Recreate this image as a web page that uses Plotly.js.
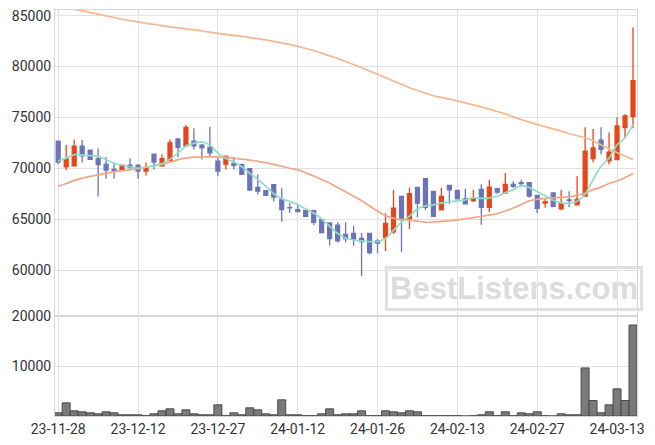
<!DOCTYPE html>
<html>
<head>
<meta charset="utf-8">
<script src="https://cdn.plot.ly/plotly-3.0.1.min.js"></script>
<style>html,body{margin:0;padding:0;background:#fff;}#chart{width:655px;height:445px;}</style>
</head>
<body>
<div id="chart"></div>
<script>
const dates = ["23-11-28","23-11-29","23-11-30","23-12-01","23-12-04","23-12-05","23-12-06","23-12-07","23-12-08","23-12-11",
"23-12-12","23-12-13","23-12-14","23-12-15","23-12-18","23-12-19","23-12-20","23-12-21","23-12-22","23-12-26",
"23-12-27","23-12-28","24-01-02","24-01-03","24-01-04","24-01-05","24-01-08","24-01-09","24-01-10","24-01-11",
"24-01-12","24-01-15","24-01-16","24-01-17","24-01-18","24-01-19","24-01-22","24-01-23","24-01-24","24-01-25",
"24-01-26","24-01-29","24-01-30","24-01-31","24-02-01","24-02-02","24-02-05","24-02-06","24-02-07","24-02-08",
"24-02-13","24-02-14","24-02-15","24-02-16","24-02-19","24-02-20","24-02-21","24-02-22","24-02-23","24-02-26",
"24-02-27","24-02-28","24-02-29","24-03-04","24-03-05","24-03-06","24-03-07","24-03-08","24-03-11","24-03-12",
"24-03-13","24-03-14","24-03-15"];

const openP = [72670,70130,70230,72180,71780,70960,70400,69900,69830,70300,
70300,69730,71390,70230,70790,72870,72210,72670,72280,72050,
70690,70400,70470,70370,69970,68120,67790,68390,66930,66140,
65940,65840,65840,64950,64620,64420,63500,63600,63100,63600,
62870,63220,63760,67230,65020,68090,68980,67720,65910,68320,
67820,67000,66830,67920,66170,67990,67560,68420,68580,68580,
67330,66570,67590,66010,66900,66400,67260,70960,72770,70720,
70860,73990,75080];
const highP = [72700,72280,72840,72770,71800,71950,71120,70560,70330,70960,
70300,70560,71400,71360,72840,73000,74260,73930,72380,74090,
71060,71200,71120,70470,70000,69380,67800,68400,68050,66600,
66400,65850,65850,64950,64650,64690,64690,64360,63630,63600,
63040,65570,67890,67250,68090,68220,69000,67720,68090,68330,
67820,67990,67890,68420,68880,68090,69530,68720,68880,68580,
67330,67000,67600,67890,67750,69210,74030,73860,74030,73530,
75020,75310,83830];
const lowP = [70400,69800,70200,70560,70840,67230,68980,68980,69800,69970,
68980,69300,69870,70200,70700,71120,72200,71850,70860,71120,
69210,69870,69870,69400,67820,67430,67300,66730,64750,65610,
65700,65200,64420,63650,62380,62700,62700,62380,59400,61550,
61650,61880,63530,61780,64030,65180,65910,65280,65900,66500,
66990,66480,66660,64460,65680,67500,67550,68090,68220,67100,
65570,66110,66170,65910,66170,66400,67250,70560,71360,70400,
70850,73040,73930];
const closeP = [70620,70960,72180,71220,70890,70370,69830,69770,70300,70070,
69730,70070,70620,70960,72500,72050,74030,72210,72010,71510,
69730,71190,70300,69410,67850,67750,67330,67170,65940,66100,
65740,65280,64690,63690,63100,62870,63100,63050,62800,61720,
62640,64580,66070,65080,67500,66570,66170,65280,67230,67890,
67000,66500,67060,66170,68150,67650,68420,68220,68500,67260,
66070,66730,66270,66570,66830,66930,71680,72010,71850,71580,
74160,75150,78610];

const volume = [640,2640,1040,840,640,440,840,640,240,240,
240,50,440,1040,1440,440,1240,440,240,240,
2240,50,640,240,1640,1240,440,240,3240,240,
240,50,50,440,1440,240,440,440,1040,50,
50,1040,840,640,1040,840,50,50,50,50,
50,0,50,240,840,50,840,50,640,440,
840,50,0,440,240,240,9640,3100,640,2240,
5440,3100,18240];

const maShort = [70720,71000,71350,71300,71250,71190,70850,70500,70300,70150,
70030,70100,70250,70460,70900,71500,72200,72450,72600,72300,
71500,70950,70620,70150,69500,68900,68250,67500,67000,66750,
66450,66000,65600,65000,64300,63600,63150,62950,62870,62800,
62800,63100,63900,64700,65300,66000,66300,66400,66600,66700,
66800,66900,67100,67050,67100,67250,67600,67900,68300,68100,
67700,67300,66850,66600,66560,66750,67450,68900,70200,71000,
72300,73000,74300];
const maMid = [68220,68500,68810,69020,69210,69350,69520,69650,69750,69850,
69960,70100,70250,70400,70600,70850,71000,71100,71120,71130,
71120,71080,71000,70900,70800,70680,70550,70380,70200,70000,
69850,69550,69250,68900,68550,68100,67700,67250,66800,66300,
65800,65350,65100,64950,64900,64800,64700,64720,64780,64850,
64920,65020,65150,65280,65400,65550,65800,66100,66450,66800,
66950,67050,67100,67150,67180,67350,67550,67900,68150,68500,
68750,69100,69500];
const maLong = [86200,85900,85640,85480,85310,85150,84980,84820,84650,84520,
84390,84260,84140,84030,83910,83810,83710,83610,83500,83380,
83270,83170,83070,82970,82850,82740,82620,82480,82330,82180,
81980,81780,81580,81320,81050,80790,80490,80200,79900,79570,
79240,78910,78580,78250,77920,77650,77390,77130,76960,76800,
76630,76430,76240,76040,75810,75580,75350,75050,74800,74550,
74300,74080,73870,73650,73400,73200,73000,72700,72300,71900,
71550,71200,70850];

const xTickLabels = ["23-11-28","23-12-12","23-12-27","24-01-12","24-01-26","24-02-13","24-02-27","24-03-13"];
const priceTicks = [60000,65000,70000,75000,80000,85000];
const volumeTicks = [10000,20000];

const UP = '#e5461a', DOWN = '#6b74b8';
const traces = [
  {type:'bar', x:dates, y:volume, xaxis:'x', yaxis:'y2',
   marker:{color:'#7a7a7a', line:{color:'#4a4a4a', width:1}}, hoverinfo:'skip'},
  {type:'candlestick', x:dates, open:openP, high:highP, low:lowP, close:closeP, xaxis:'x', yaxis:'y',
   increasing:{line:{color:UP, width:1.3}, fillcolor:UP},
   decreasing:{line:{color:DOWN, width:1.3}, fillcolor:DOWN}, hoverinfo:'skip'},
  {type:'scatter', mode:'lines', x:dates, y:maLong, xaxis:'x', yaxis:'y',
   line:{color:'#f4b78f', width:1.7, shape:'spline', smoothing:0.6}, hoverinfo:'skip'},
  {type:'scatter', mode:'lines', x:dates, y:maMid, xaxis:'x', yaxis:'y',
   line:{color:'#f1a689', width:1.7, shape:'spline', smoothing:0.6}, hoverinfo:'skip'},
  {type:'scatter', mode:'lines', x:dates, y:maShort, xaxis:'x', yaxis:'y',
   line:{color:'#93dcc4', width:1.7, shape:'spline', smoothing:0.6}, hoverinfo:'skip'}
];

const tickFont = {family:'Roboto', size:14, color:'#333'};
const layout = {
  width:655, height:445,
  margin:{l:55, r:18, t:10, b:29, pad:0},
  paper_bgcolor:'#fff', plot_bgcolor:'#fff',
  showlegend:false, bargap:0,
  font:{family:'Roboto', size:14, color:'#333'},
  xaxis:{type:'category', range:[-0.4,72.5], anchor:'y2', tickmode:'array', tickvals:xTickLabels, ticktext:xTickLabels,
    showgrid:true, gridcolor:'#e2e2e2', gridwidth:1, showline:true, linecolor:'#d6d6d6', mirror:'all',
    ticks:'', tickfont:tickFont, rangeslider:{visible:false}, fixedrange:true},
  yaxis:{domain:[0.2463,1], range:[55480,85560], tickmode:'array', tickvals:priceTicks, tickformat:'d',
    showgrid:true, gridcolor:'#e2e2e2', showline:true, linecolor:'#d6d6d6', mirror:true, zeroline:false,
    ticks:'', tickfont:tickFont},
  yaxis2:{domain:[0,0.2463], range:[0,20050], tickmode:'array', tickvals:volumeTicks, tickformat:'d',
    showgrid:true, gridcolor:'#e2e2e2', showline:true, linecolor:'#d6d6d6', mirror:true, zeroline:false,
    ticks:'', tickfont:tickFont},
  annotations:[{xref:'paper', yref:'paper', x:0.789, y:0.315, xanchor:'center', yanchor:'middle',
    text:'BestListens.com', showarrow:false,
    font:{family:'Liberation Sans', size:31, color:'#dcdcdc', weight:'bold'},
    bordercolor:'#e0e0e0', borderwidth:3, borderpad:2}]
};
Plotly.newPlot('chart', traces, layout, {staticPlot:true, displayModeBar:false});
</script>
</body>
</html>
